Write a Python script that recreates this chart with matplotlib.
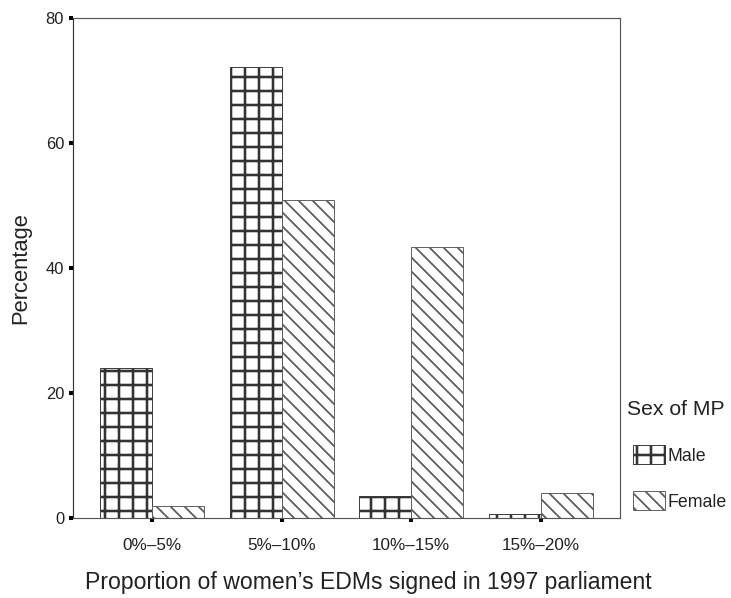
import matplotlib
matplotlib.use('Agg')
import matplotlib.pyplot as plt
import numpy as np

categories = ['0%–5%', '5%–10%', '10%–15%', '15%–20%']
male = [24.0, 72.1, 3.5, 0.6]
female = [1.9, 50.9, 43.3, 4.0]
yticks = [0, 20, 40, 60, 80]
series_names = ['Male', 'Female']

DPI = 84
plt.rcParams['font.family'] = ['Liberation Sans', 'DejaVu Sans']
plt.rcParams['hatch.linewidth'] = 2.2
fig = plt.figure(figsize=(732 / DPI, 598 / DPI), dpi=DPI)
W, H = 732, 598
PT = 88 / DPI  # font scaling relative to earlier tuning
ax = fig.add_axes([73 / W, 1 - 518 / H, (620 - 73) / W, (518 - 18) / H])

x = np.arange(len(categories))
w = 0.4
b1 = ax.bar(x - w / 2, male, w, facecolor='white', edgecolor='#333333',
            hatch='+', linewidth=0.8, label=series_names[0])
b2 = ax.bar(x + w / 2, female, w, facecolor='white', edgecolor='#5a5a5a',
            hatch='\\\\', linewidth=0.8, label=series_names[1])
for p in b1:
    if hasattr(p, 'set_hatch_linewidth'):
        p.set_hatch_linewidth(2.2)
for p in b2:
    if hasattr(p, 'set_hatch_linewidth'):
        p.set_hatch_linewidth(1.5)

ax.set_xlim(-0.61, 3.61)
ax.set_ylim(0, 80)
ax.set_xticks(x)
ax.set_xticklabels(categories)
ax.set_yticks(yticks)
ax.set_yticklabels([str(v) for v in yticks])
ax.tick_params(direction='out', length=3.3 * PT, width=3.3 * PT, color='black',
               labelcolor='#222222')
ax.tick_params(axis='x', pad=13 * PT, labelsize=14 * PT)
ax.tick_params(axis='y', pad=4 * PT, labelsize=13.5 * PT)
for s in ax.spines.values():
    s.set_color('#555555')
    s.set_linewidth(1.0)
ax.spines['left'].set_color('#333333')

ax.set_xlabel("Proportion of women\u2019s EDMs signed in 1997 parliament",
              fontsize=18.8 * PT, color='#222222')
ax.xaxis.set_label_coords((368 - 73) / 547, -0.105)
ax.set_ylabel('Percentage', fontsize=18 * PT, color='#222222', labelpad=12 * PT)

leg = ax.legend(handles=[b1, b2], loc='upper left',
                bbox_to_anchor=((633 - 73) / 547, (518 - 445) / 500),
                frameon=False, fontsize=14.5 * PT, handlelength=1.8,
                handleheight=1.3, handletextpad=0.15, labelspacing=1.5,
                borderaxespad=0, borderpad=0)
for t in leg.get_texts():
    t.set_color('#222222')
for p, lw in zip(leg.get_patches(), [2.2, 1.5]):
    if hasattr(p, 'set_hatch_linewidth'):
        p.set_hatch_linewidth(lw)
fig.text(627 / W, 1 - 415 / H, 'Sex of MP', fontsize=17.3 * PT, color='#222222',
         ha='left', va='baseline')

fig.savefig('out.png', dpi=DPI)
